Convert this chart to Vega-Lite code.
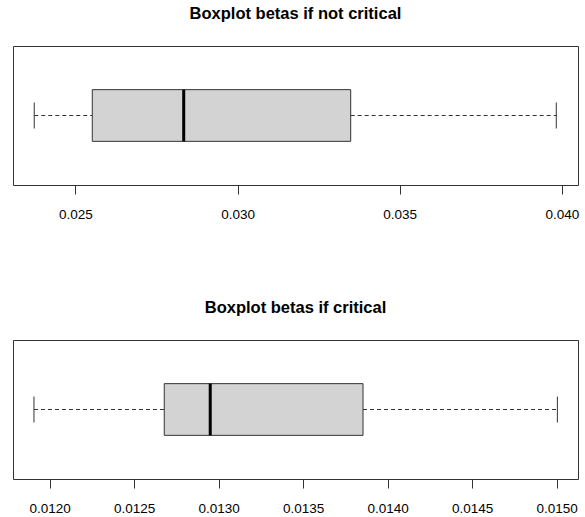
{
  "$schema": "https://vega.github.io/schema/vega-lite/v6.json",
  "padding": {"left": 12, "top": 5, "right": 0, "bottom": 0},
  "background": "white",
  "datasets": {
    "notcrit": [{"lower": 0.02373, "q1": 0.02552, "median": 0.02834, "q3": 0.03349, "upper": 0.03983}],
    "crit": [{"lower": 0.011907, "q1": 0.012678, "median": 0.01295, "q3": 0.013854, "upper": 0.015004}]
  },
  "config": {
    "view": {"stroke": "#333", "strokeWidth": 1},
    "font": "Liberation Sans",
    "title": {"font": "Liberation Sans", "fontSize": 16.5, "fontWeight": "bold", "color": "black", "anchor": "middle", "baseline": "alphabetic", "offset": 24},
    "axis": {"labelFont": "Liberation Sans", "labelFontSize": 13.5, "labelColor": "black", "tickColor": "#333", "tickSize": 9, "domain": false, "grid": false, "labelPadding": 13, "labelFlush": false, "title": null}
  },
  "spacing": 78,
  "vconcat": [
    {
      "title": "Boxplot betas if not critical",
      "width": 565,
      "height": 139,
      "data": {"name": "notcrit"},
      "layer": [
        {"mark": {"type": "rule", "strokeDash": [4, 3], "color": "#333"},
         "encoding": {"x": {"field": "lower", "type": "quantitative", "scale": {"domain": [0.023075, 0.0405], "nice": false, "zero": false}, "axis": {"values": [0.025, 0.03, 0.035, 0.04], "format": ".3f"}}, "x2": {"field": "q1"}, "y": {"datum": 0.5, "type": "quantitative", "scale": {"domain": [0, 1]}, "axis": null}}},
        {"mark": {"type": "rule", "strokeDash": [4, 3], "color": "#333"},
         "encoding": {"x": {"field": "q3", "type": "quantitative"}, "x2": {"field": "upper"}, "y": {"datum": 0.5, "type": "quantitative"}}},
        {"mark": {"type": "rule", "color": "#333"},
         "encoding": {"x": {"field": "lower", "type": "quantitative"}, "y": {"datum": 0.4065, "type": "quantitative"}, "y2": {"datum": 0.5935}}},
        {"mark": {"type": "rule", "color": "#333"},
         "encoding": {"x": {"field": "upper", "type": "quantitative"}, "y": {"datum": 0.4065, "type": "quantitative"}, "y2": {"datum": 0.5935}}},
        {"mark": {"type": "bar", "fill": "#D3D3D3", "stroke": "#333", "strokeWidth": 1},
         "encoding": {"x": {"field": "q1", "type": "quantitative"}, "x2": {"field": "q3"}, "y": {"datum": 0.314, "type": "quantitative"}, "y2": {"datum": 0.686}}},
        {"mark": {"type": "rule", "color": "black", "strokeWidth": 3},
         "encoding": {"x": {"field": "median", "type": "quantitative"}, "y": {"datum": 0.314, "type": "quantitative"}, "y2": {"datum": 0.686}}}
      ]
    },
    {
      "title": "Boxplot betas if critical",
      "width": 565,
      "height": 139,
      "data": {"name": "crit"},
      "layer": [
        {"mark": {"type": "rule", "strokeDash": [4, 3], "color": "#333"},
         "encoding": {"x": {"field": "lower", "type": "quantitative", "scale": {"domain": [0.011783, 0.015126], "nice": false, "zero": false}, "axis": {"values": [0.012, 0.0125, 0.013, 0.0135, 0.014, 0.0145, 0.015], "format": ".4f"}}, "x2": {"field": "q1"}, "y": {"datum": 0.5, "type": "quantitative", "scale": {"domain": [0, 1]}, "axis": null}}},
        {"mark": {"type": "rule", "strokeDash": [4, 3], "color": "#333"},
         "encoding": {"x": {"field": "q3", "type": "quantitative"}, "x2": {"field": "upper"}, "y": {"datum": 0.5, "type": "quantitative"}}},
        {"mark": {"type": "rule", "color": "#333"},
         "encoding": {"x": {"field": "lower", "type": "quantitative"}, "y": {"datum": 0.4065, "type": "quantitative"}, "y2": {"datum": 0.5935}}},
        {"mark": {"type": "rule", "color": "#333"},
         "encoding": {"x": {"field": "upper", "type": "quantitative"}, "y": {"datum": 0.4065, "type": "quantitative"}, "y2": {"datum": 0.5935}}},
        {"mark": {"type": "bar", "fill": "#D3D3D3", "stroke": "#333", "strokeWidth": 1},
         "encoding": {"x": {"field": "q1", "type": "quantitative"}, "x2": {"field": "q3"}, "y": {"datum": 0.314, "type": "quantitative"}, "y2": {"datum": 0.686}}},
        {"mark": {"type": "rule", "color": "black", "strokeWidth": 3},
         "encoding": {"x": {"field": "median", "type": "quantitative"}, "y": {"datum": 0.314, "type": "quantitative"}, "y2": {"datum": 0.686}}}
      ]
    }
  ]
}
